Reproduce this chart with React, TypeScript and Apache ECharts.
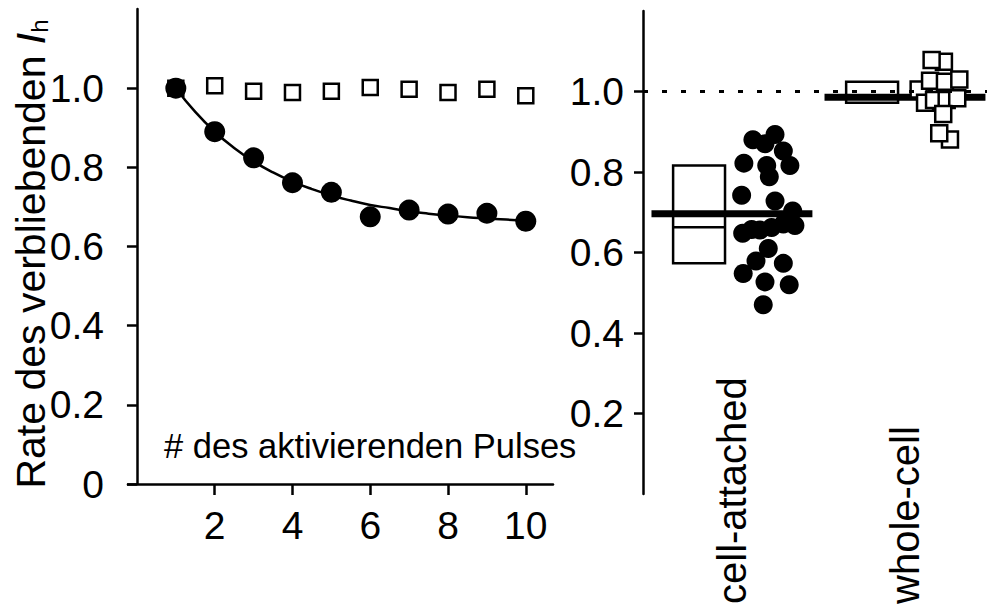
import React, { useEffect, useRef } from "react";
import * as echarts from "echarts";

// Left panel: remaining I_h fraction per activating pulse
const pulseNumbers = [1, 2, 3, 4, 5, 6, 7, 8, 9, 10];
const cellAttachedByPulse = [1.0, 0.89, 0.824, 0.761, 0.737, 0.675, 0.692, 0.682, 0.684, 0.664];
const wholeCellByPulse = [1.0, 1.006, 0.992, 0.989, 0.992, 1.002, 0.997, 0.989, 0.997, 0.981];

// Exponential fit through the cell-attached points
const fitX = [1, 1.5, 2, 2.5, 3, 3.5, 4, 4.5, 5, 5.5, 6, 6.5, 7, 7.5, 8, 8.5, 9, 9.5, 10];
const fitY = [1.0, 0.94, 0.89, 0.849, 0.815, 0.787, 0.764, 0.745, 0.729, 0.716, 0.705, 0.697, 0.689, 0.683, 0.678, 0.674, 0.671, 0.668, 0.666];

// Right panel: per-cell values for the two recording configurations
const groupNames = ["cell-attached", "whole-cell"];
const groupPositions = [1, 2];

const cellAttachedJitter = [0.121, 0.191, 0.249, 0.297, 0.335, 0.069, 0.201, 0.216, 0.056, 0.249, 0.351, 0.364, 0.297, 0.229, 0.162, 0.114, 0.062, 0.21, 0.139, 0.297, 0.065, 0.191, 0.331, 0.181];
const cellAttachedValues = [0.88, 0.87, 0.893, 0.852, 0.816, 0.822, 0.816, 0.788, 0.742, 0.728, 0.703, 0.667, 0.671, 0.662, 0.656, 0.657, 0.648, 0.61, 0.579, 0.573, 0.548, 0.527, 0.52, 0.47];

const wholeCellJitter = [0.225, 0.154, 0.079, 0.145, 0.231, 0.314, 0.116, 0.168, 0.241, 0.302, 0.221, 0.26, 0.198];
const wholeCellValues = [1.074, 1.078, 1.005, 1.027, 1.024, 1.03, 0.972, 0.979, 0.979, 0.983, 0.944, 0.881, 0.896];

// Box (quartiles + median) and mean for each group
const boxLow = [0.573, 0.972];
const boxMedian = [0.663, 0.986];
const boxHigh = [0.816, 1.024];
const groupMeans = [0.696, 0.986];

const leftTicks = [0, 0.2, 0.4, 0.6, 0.8, 1.0];
const rightTicks = [0.2, 0.4, 0.6, 0.8, 1.0];
const pulseTicks = [2, 4, 6, 8, 10];

const FONT = "'Liberation Sans', Arial, Helvetica, sans-serif";
const BLACK = "#000";

const fmt = (v: number) => (Math.abs(v) < 1e-9 ? "0" : v.toFixed(1));

export default function App() {
  const ref = useRef<HTMLDivElement>(null);

  useEffect(() => {
    if (!ref.current) return;
    const chart = echarts.init(ref.current, null, { renderer: "svg" });

    const axisText = { fontSize: 39, color: BLACK, fontFamily: FONT };
    const lineStyle = { color: BLACK, width: 2.5 };

    const option: any = {
      animation: false,
      backgroundColor: "#fff",
      grid: [
        { left: 128, top: 9, width: 425, height: 475, outerBoundsMode: "none" },
        { left: 643, top: 11, width: 344, height: 483, outerBoundsMode: "none" },
      ],
      xAxis: [
        {
          type: "value",
          gridIndex: 0,
          min: -0.23,
          max: 10.7,
          splitLine: { show: false },
          axisLine: { show: true, lineStyle },
          axisTick: { show: true, length: 11, lineStyle, customValues: pulseTicks },
          axisLabel: { ...axisText, margin: 22, customValues: pulseTicks },
        },
        {
          type: "value",
          gridIndex: 1,
          min: 0.486,
          max: 2.474,
          splitLine: { show: false },
          axisLine: { show: false },
          axisTick: { show: false },
          axisLabel: {
            ...axisText,
            fontSize: 40,
            rotate: 90,
            align: "left",
            verticalAlign: "middle",
            margin: 110,
            customValues: groupPositions,
            formatter: (v: number) => groupNames[groupPositions.indexOf(Math.round(v))] ?? "",
          },
        },
      ],
      yAxis: [
        {
          type: "value",
          gridIndex: 0,
          min: 0,
          max: 1.2,
          splitLine: { show: false },
          axisLine: { show: true, onZero: true, lineStyle },
          axisTick: { show: true, length: 10, lineStyle, customValues: leftTicks },
          axisLabel: { ...axisText, margin: 24, customValues: leftTicks, formatter: fmt },
        },
        {
          type: "value",
          gridIndex: 1,
          position: "left",
          min: 0,
          max: 1.2,
          splitLine: { show: false },
          axisLine: { show: true, onZero: false, lineStyle },
          axisTick: { show: true, length: 9, lineStyle, customValues: rightTicks },
          axisLabel: { ...axisText, margin: 19, customValues: rightTicks, formatter: fmt },
        },
      ],
      graphic: [
        {
          type: "text",
          x: 31,
          y: 254,
          rotation: Math.PI / 2,
          silent: true,
          style: {
            text: "{a|Rate des verbliebenden }{i|I}{s|h}",
            align: "center",
            verticalAlign: "middle",
            fill: BLACK,
            fontFamily: FONT,
            fontSize: 41,
            rich: {
              a: { fontSize: 41, fontFamily: FONT, fill: BLACK },
              i: { fontSize: 41, fontFamily: FONT, fontStyle: "italic", fill: BLACK },
              s: { fontSize: 24, fontFamily: FONT, fill: BLACK, verticalAlign: "bottom" },
            },
          },
        },
        {
          type: "text",
          x: 164,
          y: 446,
          silent: true,
          style: {
            text: "# des aktivierenden Pulses",
            align: "left",
            verticalAlign: "middle",
            fill: BLACK,
            fontFamily: FONT,
            fontSize: 34.5,
          },
        },
      ],
      series: [
        {
          name: "whole-cell",
          type: "scatter",
          xAxisIndex: 0,
          yAxisIndex: 0,
          symbol: "rect",
          symbolSize: 15,
          itemStyle: { color: "#fff", borderColor: BLACK, borderWidth: 2.5, opacity: 1 },
          data: pulseNumbers.map((p, i) => [p, wholeCellByPulse[i]]),
          silent: true,
        },
        {
          name: "fit",
          type: "line",
          xAxisIndex: 0,
          yAxisIndex: 0,
          smooth: true,
          showSymbol: false,
          lineStyle: { color: BLACK, width: 2.5 },
          data: fitX.map((x, i) => [x, fitY[i]]),
          silent: true,
        },
        {
          name: "cell-attached",
          type: "scatter",
          xAxisIndex: 0,
          yAxisIndex: 0,
          symbol: "circle",
          symbolSize: 21,
          itemStyle: { color: BLACK, opacity: 1 },
          data: pulseNumbers.map((p, i) => [p, cellAttachedByPulse[i]]),
          silent: true,
        },
        {
          name: "boxes",
          type: "custom",
          xAxisIndex: 1,
          yAxisIndex: 1,
          silent: true,
          encode: { x: 0, y: [1, 2, 3] },
          data: groupPositions.map((g, i) => [g, boxLow[i], boxMedian[i], boxHigh[i]]),
          markLine: {
            silent: true,
            symbol: "none",
            label: { show: false },
            lineStyle: { color: BLACK, width: 3, type: [5, 14] },
            data: [{ yAxis: 1 }],
          },
          renderItem: (_p: any, api: any) => {
            const g = api.value(0);
            const tl = api.coord([g - 0.34, api.value(3)]);
            const br = api.coord([g - 0.04, api.value(1)]);
            const med = api.coord([g - 0.34, api.value(2)]);
            return {
              type: "group",
              children: [
                {
                  type: "rect",
                  shape: { x: tl[0], y: tl[1], width: br[0] - tl[0], height: br[1] - tl[1] },
                  style: { fill: "none", stroke: BLACK, lineWidth: 2.5 },
                },
                {
                  type: "line",
                  shape: { x1: med[0], y1: med[1], x2: br[0], y2: med[1] },
                  style: { stroke: BLACK, lineWidth: 2.5 },
                },
              ],
            };
          },
        },
        {
          name: "means",
          type: "custom",
          xAxisIndex: 1,
          yAxisIndex: 1,
          silent: true,
          encode: { x: 0, y: 1 },
          data: groupPositions.map((g, i) => [g, groupMeans[i]]),
          renderItem: (_p: any, api: any) => {
            const g = api.value(0);
            const a = api.coord([g - 0.465, api.value(1)]);
            const b = api.coord([g + 0.465, api.value(1)]);
            return {
              type: "line",
              shape: { x1: a[0], y1: a[1], x2: b[0], y2: b[1] },
              style: { stroke: BLACK, lineWidth: 7 },
            };
          },
        },
        {
          name: "cell-attached cells",
          type: "scatter",
          xAxisIndex: 1,
          yAxisIndex: 1,
          symbol: "circle",
          symbolSize: 19,
          itemStyle: { color: BLACK, opacity: 1 },
          data: cellAttachedValues.map((v, i) => [groupPositions[0] + cellAttachedJitter[i], v]),
          silent: true,
        },
        {
          name: "whole-cell cells",
          type: "scatter",
          xAxisIndex: 1,
          yAxisIndex: 1,
          symbol: "rect",
          symbolSize: 16,
          itemStyle: { color: "#fff", borderColor: BLACK, borderWidth: 2.5, opacity: 1 },
          data: wholeCellValues.map((v, i) => [groupPositions[1] + wholeCellJitter[i], v]),
          silent: true,
        },
      ],
    };

    chart.setOption(option);
    return () => chart.dispose();
  }, []);

  return (
    <div
      ref={ref}
      style={{ position: "fixed", left: 0, top: 0, width: 987, height: 606, background: "#fff" }}
    />
  );
}
